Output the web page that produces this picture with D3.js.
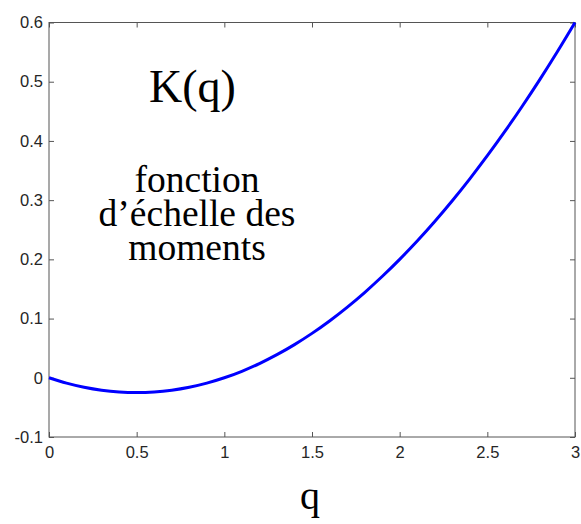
<!DOCTYPE html>
<html>
<head>
<meta charset="utf-8">
<script src="https://cdn.jsdelivr.net/npm/d3@7/dist/d3.min.js"></script>
<style>
  html, body { margin: 0; padding: 0; background: #fff; }
  svg { display: block; }
</style>
</head>
<body>
<svg id="chart" width="581" height="524"></svg>
<script>
// ---- data ----
const qValues = [0, 0.1, 0.2, 0.3, 0.4, 0.5, 0.6, 0.7, 0.8, 0.9, 1.0,
                 1.1, 1.2, 1.3, 1.4, 1.5, 1.6, 1.7, 1.8, 1.9, 2.0,
                 2.1, 2.2, 2.3, 2.4, 2.5, 2.6, 2.7, 2.8, 2.9, 3.0];
const kValues = [0, -0.009, -0.016, -0.021, -0.024, -0.025, -0.024, -0.021, -0.016, -0.009, 0,
                 0.011, 0.024, 0.039, 0.056, 0.075, 0.096, 0.119, 0.144, 0.171, 0.2,
                 0.231, 0.264, 0.299, 0.336, 0.375, 0.416, 0.459, 0.504, 0.551, 0.6];
const xTicks = [0, 0.5, 1, 1.5, 2, 2.5, 3];
const xTickLabels = ["0", "0.5", "1", "1.5", "2", "2.5", "3"];
const yTicks = [-0.1, 0, 0.1, 0.2, 0.3, 0.4, 0.5, 0.6];
const yTickLabels = ["-0.1", "0", "0.1", "0.2", "0.3", "0.4", "0.5", "0.6"];
const titleText = "K(q)";
const noteLines = ["fonction", "d\u2019échelle des", "moments"];
const xLabel = "q";

// ---- layout ----
const svg = d3.select("#chart");
const mLeft = 49, mRight = 575, mTop = 22.5, mBottom = 437;

const x = d3.scaleLinear().domain([0, 3]).range([mLeft, mRight]);
const y = d3.scaleLinear().domain([-0.1, 0.6]).range([mBottom, mTop]);

const axisColor = "#555";
const labelColor = "#262626";
const tickFont = "'Liberation Sans', Arial, Helvetica, sans-serif";
const serif = "'Liberation Serif', 'Times New Roman', serif";

function styleAxis(g) {
  g.select(".domain").remove();
  g.selectAll(".tick line").attr("stroke", axisColor).attr("stroke-width", 1);
  g.selectAll(".tick text").attr("fill", labelColor)
    .style("font-family", tickFont).style("font-size", "16.5px");
}

const xAxis = svg.append("g").attr("transform", `translate(0,${mBottom})`)
  .call(d3.axisBottom(x).tickValues(xTicks).tickFormat((d, i) => xTickLabels[i])
        .tickSizeInner(-5).tickSizeOuter(0).tickPadding(8));
styleAxis(xAxis);
xAxis.selectAll(".tick text").attr("dy", "0.71em").attr("y", 9);

const xAxisTop = svg.append("g").attr("transform", `translate(0,${mTop})`)
  .call(d3.axisTop(x).tickValues(xTicks).tickFormat("").tickSizeInner(-5).tickSizeOuter(0));
styleAxis(xAxisTop);

const yAxis = svg.append("g").attr("transform", `translate(${mLeft},0)`)
  .call(d3.axisLeft(y).tickValues(yTicks).tickFormat((d, i) => yTickLabels[i])
        .tickSizeInner(-5).tickSizeOuter(0).tickPadding(6));
styleAxis(yAxis);
yAxis.selectAll(".tick text").attr("x", -6);

const yAxisRight = svg.append("g").attr("transform", `translate(${mRight},0)`)
  .call(d3.axisRight(y).tickValues(yTicks).tickFormat("").tickSizeInner(-5).tickSizeOuter(0));
styleAxis(yAxisRight);

svg.append("rect")
  .attr("x", mLeft).attr("y", mTop)
  .attr("width", mRight - mLeft).attr("height", mBottom - mTop)
  .attr("fill", "none").attr("stroke", axisColor).attr("stroke-width", 1);

const pts = qValues.map((q, i) => [q, kValues[i]]);
svg.append("path")
  .datum(pts)
  .attr("fill", "none")
  .attr("stroke", "#0000ff")
  .attr("stroke-width", 3)
  .attr("stroke-linejoin", "round")
  .attr("d", d3.line().x(d => x(d[0])).y(d => y(d[1])).curve(d3.curveCatmullRom));

svg.append("text")
  .attr("x", 192.5).attr("y", 102)
  .attr("text-anchor", "middle")
  .style("font-family", serif).style("font-size", "46px")
  .attr("fill", "#000")
  .text(titleText);

const note = svg.append("text")
  .attr("text-anchor", "middle")
  .style("font-family", serif).style("font-size", "37.5px")
  .attr("fill", "#000");
noteLines.forEach((t, i) => {
  note.append("tspan").attr("x", 197).attr("y", 192 + i * 34).text(t);
});

svg.append("text")
  .attr("x", (mLeft + mRight) / 2 - 2).attr("y", 509)
  .attr("text-anchor", "middle")
  .style("font-family", serif).style("font-size", "40px")
  .attr("fill", "#000")
  .text(xLabel);
</script>
</body>
</html>
